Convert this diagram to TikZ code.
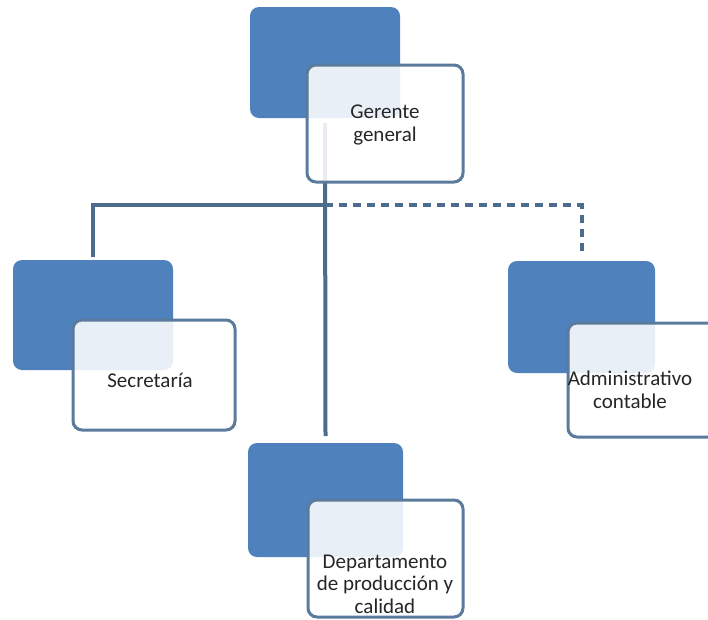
\documentclass[tikz,border=0pt]{standalone}
\usepackage{fontspec}
\setmainfont{Carlito}
\usetikzlibrary{calc}
\definecolor{boxblue}{HTML}{4F81BD}
\definecolor{edgeblue}{HTML}{5B7B9C}
\definecolor{linkblue}{HTML}{4C6C8E}
\begin{document}
\begin{tikzpicture}[x=1pt,y=-1pt,
  backbox/.style={rectangle,rounded corners=9pt,fill=boxblue,draw=none,inner sep=0pt},
  frontbox/.style={rectangle,rounded corners=9pt,fill=white,fill opacity=0.88,draw=edgeblue,line width=3pt,inner sep=0pt},
  lbl/.style={align=center,font=\fontsize{21}{22.5}\selectfont,text=black!85,inner sep=0pt},
  conn/.style={draw=linkblue,line width=4pt},
  dashconn/.style={conn,dash pattern=on 8pt off 6pt}]
\useasboundingbox (0,0) rectangle (708,619);
% back blue boxes
\node[backbox,minimum width=150pt,minimum height=111pt] (gblue) at (325,62.5) {};
\node[backbox,minimum width=160pt,minimum height=110pt] (sblue) at (93,315) {};
\node[backbox,minimum width=147pt,minimum height=112pt] (ablue) at (581.5,317) {};
\node[backbox,minimum width=155pt,minimum height=114pt] (dblue) at (325.5,500) {};
% connectors
\coordinate (gsrc) at (325,123);
\coordinate (jn) at (325,205);
\draw[conn] (gsrc) -- (dblue.north |- 0,436);
\draw[conn] (jn) -| ($(sblue.north)+(0,-3)$);
\draw[dashconn] (jn) -| ($(ablue.north)+(0,-5)$);
% front boxes
\node[frontbox,minimum width=156pt,minimum height=117pt] (gbox) at (385,123.5) {};
\node[frontbox,minimum width=162pt,minimum height=110pt] (sbox) at (154,375) {};
\node[frontbox,minimum width=154pt,minimum height=114pt] (abox) at (645,380) {};
\node[frontbox,minimum width=155pt,minimum height=117pt] (dbox) at (385.5,558.5) {};
% labels
\node[lbl] (gtext) at (385,125) {Gerente\\general};
\node[lbl] (stext) at (150,380) {Secretaría};
\node[lbl] (atext) at (630,390) {Administrativo\\contable};
\node[lbl] (dtext) at (385,584) {Departamento\\de producción y\\calidad};
\end{tikzpicture}
\end{document}
